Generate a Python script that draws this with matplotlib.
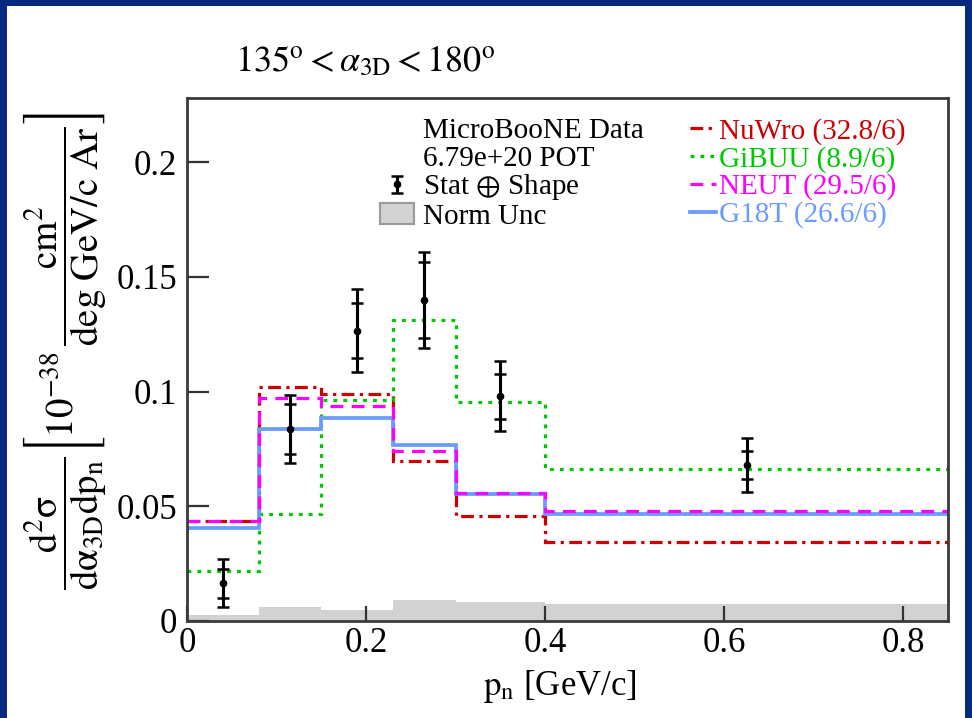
import numpy as np
import matplotlib.pyplot as plt
from matplotlib.patches import Rectangle, Patch
from matplotlib.lines import Line2D
from matplotlib.legend_handler import HandlerErrorbar

plt.rcParams['font.family'] = ['Liberation Serif', 'DejaVu Serif']
plt.rcParams['mathtext.fontset'] = 'stix'

# p_n binning [GeV/c]
bin_edges = [0.0, 0.08, 0.15, 0.23, 0.30, 0.40, 0.85]

# measured cross section (1e-38 cm2 / deg GeV/c Ar)
data_xsec = [0.0164, 0.0838, 0.1266, 0.1399, 0.0980, 0.0681]
err_total = [0.0105, 0.0148, 0.0181, 0.0211, 0.0153, 0.0118]   # stat (+) shape
err_stat = [0.0062, 0.0110, 0.0121, 0.0164, 0.0098, 0.0061]
norm_unc = [0.0026, 0.0060, 0.0048, 0.0092, 0.0082, 0.0074]

# generator predictions
nuwro = [0.0437, 0.1019, 0.0990, 0.0696, 0.0459, 0.0344]
gibuu = [0.0220, 0.0467, 0.0962, 0.1314, 0.0955, 0.0664]
neut = [0.0434, 0.0972, 0.0936, 0.0739, 0.0558, 0.0480]
g18t = [0.0405, 0.0838, 0.0885, 0.0769, 0.0555, 0.0466]

model_labels = ['NuWro (32.8/6)', 'GiBUU (8.9/6)', 'NEUT (29.5/6)', 'G18T (26.6/6)']
model_colors = ['#cc0000', '#00c800', '#ff00ff', '#6a9bff']

yticks = [0, 0.05, 0.1, 0.15, 0.2]
ytick_labels = ['0', '0.05', '0.1', '0.15', '0.2']
xticks = [0, 0.2, 0.4, 0.6, 0.8]
xtick_labels = ['0', '0.2', '0.4', '0.6', '0.8']

edges = np.array(bin_edges)
centers = 0.5 * (edges[:-1] + edges[1:])

fig = plt.figure(figsize=(9.72, 7.18), dpi=100)
fig.patch.set_facecolor('#062a80')
fig.add_artist(Rectangle((7 / 972, 0), 958 / 972, 712 / 718, transform=fig.transFigure,
                         facecolor='white', edgecolor='none', zorder=-5))

ax = fig.add_axes([0.1924, 0.1351, 0.7829, 0.7284])

# normalisation uncertainty band
ax.stairs(norm_unc, edges, baseline=0, fill=True, color='#d2d2d2', zorder=1)

lw = 2.3
ls_nuwro = (0, (4, 1.7, 1, 1.7))
ls_gibuu = (0, (1.2, 1.9))
ls_neut = (0, (4, 2.6))
ax.stairs(nuwro, edges, baseline=None, color=model_colors[0], lw=lw, linestyle=ls_nuwro, zorder=3)
ax.stairs(gibuu, edges, baseline=None, color=model_colors[1], lw=lw, linestyle=ls_gibuu, zorder=3)
ax.stairs(g18t, edges, baseline=None, color=model_colors[3], lw=lw + 0.4, zorder=3)
ax.stairs(neut, edges, baseline=None, color=model_colors[2], lw=lw, linestyle=ls_neut, zorder=3)

# data: outer = stat (+) shape, inner caps = stat only
eb = ax.errorbar(centers, data_xsec, yerr=err_total, fmt='o', color='black', ms=4.5,
                 elinewidth=2.2, capsize=4, capthick=1.8, zorder=5)
ax.errorbar(centers, data_xsec, yerr=err_stat, fmt='none', ecolor='black',
            elinewidth=2.2, capsize=4, capthick=1.8, zorder=5)

ax.set_xlim(0, 0.85)
ax.set_ylim(0, 0.228)
ax.set_xticks(xticks)
ax.set_xticklabels(xtick_labels)
ax.set_yticks(yticks)
ax.set_yticklabels(ytick_labels)
ax.tick_params(direction='in', labelsize=25, width=1.6, color='#333333')
ax.tick_params(axis='y', length=16, pad=7)
ax.tick_params(axis='x', length=11, pad=4)
for s in ax.spines.values():
    s.set_linewidth(2.0)
    s.set_color('#3a3a3a')
    s.set_zorder(6)

ax.set_xlabel(r'$\mathrm{p_{n}}$ [GeV/c]', fontsize=25)
ax.xaxis.set_label_coords(0.49, -0.09)
ax.set_ylabel(r'$\dfrac{\mathrm{d^{2}\sigma}}{\mathrm{d\alpha_{3D}dp_{n}}}'
              r'\left[10^{-38}\,\dfrac{\mathrm{cm^{2}}}{\mathrm{deg\ GeV/c\ Ar}}\right]$',
              fontsize=28)
ax.yaxis.set_label_coords(-0.104, 0.516)

fig.text(235 / 972, 1 - 62 / 718, r'$135^{\rm o} < \alpha_{\rm 3D} < 180^{\rm o}$',
         fontsize=26, va='center', ha='left')

# legends
blank = Line2D([], [], color='none')
leg1 = ax.legend([blank, blank, eb, Patch(facecolor='#d2d2d2', edgecolor='#9a9a9a', lw=1.5)],
                 ['MicroBooNE Data', '6.79e+20 POT', r'Stat $\oplus$ Shape', 'Norm Unc'],
                 handler_map={type(eb): HandlerErrorbar(yerr_size=0.3)},
                 loc='upper left', bbox_to_anchor=(0.254, 0.962), frameon=False,
                 fontsize=21, handlelength=1.15, handletextpad=0.3, handleheight=0.7,
                 labelspacing=0.03, borderpad=0, borderaxespad=0)
ax.add_artist(leg1)

model_handles = [
    Line2D([], [], color=model_colors[0], lw=lw, linestyle=ls_nuwro),
    Line2D([], [], color=model_colors[1], lw=lw, linestyle=ls_gibuu),
    Line2D([], [], color=model_colors[2], lw=lw, linestyle=ls_neut),
    Line2D([], [], color=model_colors[3], lw=lw + 0.4),
]
leg2 = ax.legend(model_handles, model_labels, loc='upper left', bbox_to_anchor=(0.661, 0.962),
                 frameon=False, fontsize=21, handlelength=0.9, handletextpad=0.1,
                 labelspacing=0.03, borderpad=0, borderaxespad=0)
for t, c in zip(leg2.get_texts(), model_colors):
    t.set_color(c)

fig.savefig('out.png', dpi=100, facecolor=fig.get_facecolor())
